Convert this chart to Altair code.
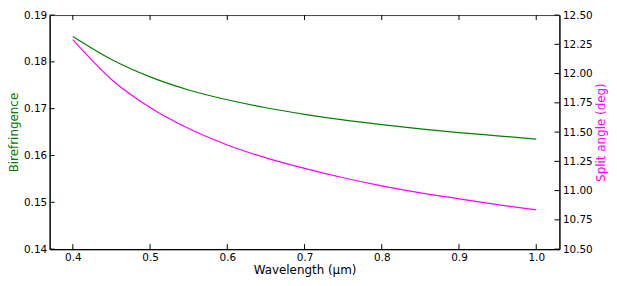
import altair as alt
import pandas as pd

wavelength = [0.40, 0.45, 0.50, 0.55, 0.60, 0.65, 0.70, 0.75, 0.80, 0.85, 0.90, 0.95, 1.00]
birefringence = [0.1854, 0.1805, 0.1768, 0.1740, 0.1719, 0.1702, 0.1688, 0.1676, 0.1666, 0.1657, 0.1649, 0.1642, 0.1635]
split_angle = [12.29, 11.95, 11.71, 11.53, 11.39, 11.28, 11.19, 11.11, 11.04, 10.98, 10.93, 10.88, 10.836]

left_ticks = [0.14, 0.15, 0.16, 0.17, 0.18, 0.19]
right_ticks = [10.50, 10.75, 11.00, 11.25, 11.50, 11.75, 12.00, 12.25, 12.50]
x_ticks = [0.4, 0.5, 0.6, 0.7, 0.8, 0.9, 1.0]

W, H = 514, 236

df = pd.DataFrame({"wl": wavelength, "bire": birefringence, "ang": split_angle})
lt = pd.DataFrame({"wl": [0.7] * len(left_ticks), "bire": left_ticks})
rt = pd.DataFrame({"wl": [0.7] * len(right_ticks), "ang": right_ticks})
xt = pd.DataFrame({"wl": x_ticks})

GREEN = "#008000"
MAG = "#FF00FF"
FONT = "DejaVu Sans"

xscale = alt.Scale(domain=[0.37, 1.03], nice=False, zero=False)
lscale = alt.Scale(domain=[0.14, 0.19], nice=False, zero=False)
rscale = alt.Scale(domain=[10.5, 12.5], nice=False, zero=False)

xaxis = alt.Axis(values=x_ticks, format=".1f", title="Wavelength (μm)", ticks=False,
                 labelPadding=3, titlePadding=2, domainColor="black", grid=False)
laxis = alt.Axis(values=left_ticks, format=".2f", title="Birefringence", titleColor=GREEN,
                 ticks=False, labelPadding=3, titlePadding=3, domainColor="black", grid=False)
raxis = alt.Axis(orient="right", values=right_ticks, format=".2f", title="Split angle (deg)",
                 titleColor=MAG, ticks=False, labelPadding=3, titlePadding=3,
                 titleAngle=270, titleBaseline="top",
                 domainColor="black", grid=False)

X = alt.X("wl:Q", scale=xscale, axis=xaxis)

left = alt.Chart(df).mark_line(color=GREEN, strokeWidth=1.2, interpolate="monotone").encode(
    x=X, y=alt.Y("bire:Q", scale=lscale, axis=laxis))
lticks = alt.Chart(lt).mark_rule(color="black", strokeWidth=1).encode(
    y=alt.Y("bire:Q", scale=lscale, axis=laxis), x=alt.value(0), x2=alt.value(5))

right = alt.Chart(df).mark_line(color=MAG, strokeWidth=1.2, interpolate="monotone").encode(
    x=X, y=alt.Y("ang:Q", scale=rscale, axis=raxis))
rticks = alt.Chart(rt).mark_rule(color="black", strokeWidth=1).encode(
    y=alt.Y("ang:Q", scale=rscale, axis=raxis), x=alt.value(W), x2=alt.value(W - 5))

xticks_b = alt.Chart(xt).mark_rule(color="black", strokeWidth=1).encode(
    x=X, y=alt.value(H), y2=alt.value(H - 5))
xticks_t = alt.Chart(xt).mark_rule(color="black", strokeWidth=1).encode(
    x=X, y=alt.value(0), y2=alt.value(5))

lay_left = alt.layer(left, lticks, xticks_b, xticks_t)
lay_right = alt.layer(right, rticks)

chart = alt.layer(lay_left, lay_right).resolve_scale(y="independent").properties(
    width=W, height=H,
    autosize=alt.AutoSizeParams(type="none"),
    padding={"left": 42, "top": 6, "right": 50, "bottom": 28},
).configure_view(stroke="#444444", strokeWidth=1).configure_axis(
    labelFont=FONT, titleFont=FONT, labelFontSize=10.5, titleFontSize=12,
    labelColor="black", titleFontWeight="normal", domainWidth=1.2,
).configure_axisX(titleColor="black")

chart.save("out.html", embed_options={"renderer": "svg", "actions": False})
